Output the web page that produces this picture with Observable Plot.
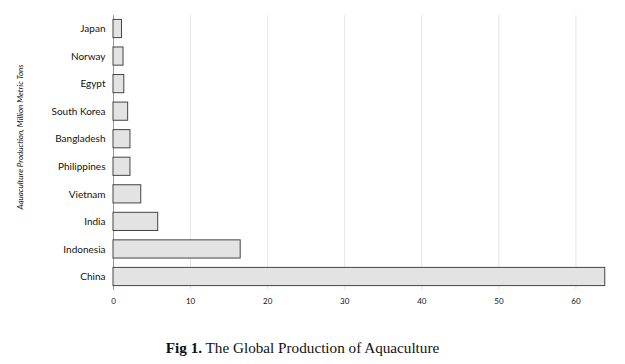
<!DOCTYPE html>
<html>
<head>
<meta charset="utf-8">
<script src="https://cdn.jsdelivr.net/npm/d3@7"></script>
<script src="https://cdn.jsdelivr.net/npm/@observablehq/plot@0.6"></script>
<style>
  body { margin: 0; background: #fff; }
  #caption { width: 605px; text-align: center; font-family: "Liberation Serif", serif; font-size: 15.2px; color: #111; margin-top: 14px; }
</style>
</head>
<body>
<div id="chart"></div>
<div id="caption"><b>Fig 1.</b> The Global Production of Aquaculture</div>
<script>
const countries = ["Japan", "Norway", "Egypt", "South Korea", "Bangladesh", "Philippines", "Vietnam", "India", "Indonesia", "China"];
const production = [1.1, 1.3, 1.4, 1.9, 2.2, 2.2, 3.6, 5.8, 16.5, 63.8];
const xTicks = [0, 10, 20, 30, 40, 50, 60];
const yLabel = "Aquaculture Production, Million Metric Tons";

const data = countries.map((c, i) => ({country: c, value: production[i]}));

const chart = Plot.plot({
  width: 625,
  height: 325,
  marginLeft: 113,
  marginRight: 11,
  marginTop: 15,
  marginBottom: 35,
  style: {fontFamily: "Lato, sans-serif", background: "#fff"},
  x: {domain: [0, 65], ticks: xTicks, tickSize: 0, tickPadding: 8, label: null},
  y: {domain: countries, paddingInner: 0.34, paddingOuter: 0.16, round: false, tickSize: 0, tickPadding: 8, label: null},
  marks: [
    Plot.gridX(xTicks, {stroke: "#e6e6e6", strokeOpacity: 1, strokeWidth: 1}),
    Plot.ruleX([0], {stroke: "#999", strokeWidth: 1}),
    Plot.ruleY([0], {frameAnchor: "bottom", stroke: "#999", strokeWidth: 1}),
    Plot.barX(data, {x: "value", y: "country", fill: "#e3e3e3", stroke: "#444", strokeWidth: 1}),
    Plot.axisY({tickSize: 0, tickPadding: 8, fontSize: 10, fill: "#111", label: null}),
    Plot.axisX(xTicks, {tickSize: 0, tickPadding: 8, fontSize: 8, fill: "#111", label: null}),
    Plot.text([yLabel], {frameAnchor: "left", text: d => d, textAnchor: "middle", rotate: -90, dx: -93, dy: -16, fontSize: 8, fontStyle: "italic", fill: "#111"})
  ]
});
document.getElementById("chart").appendChild(chart);
</script>
</body>
</html>
